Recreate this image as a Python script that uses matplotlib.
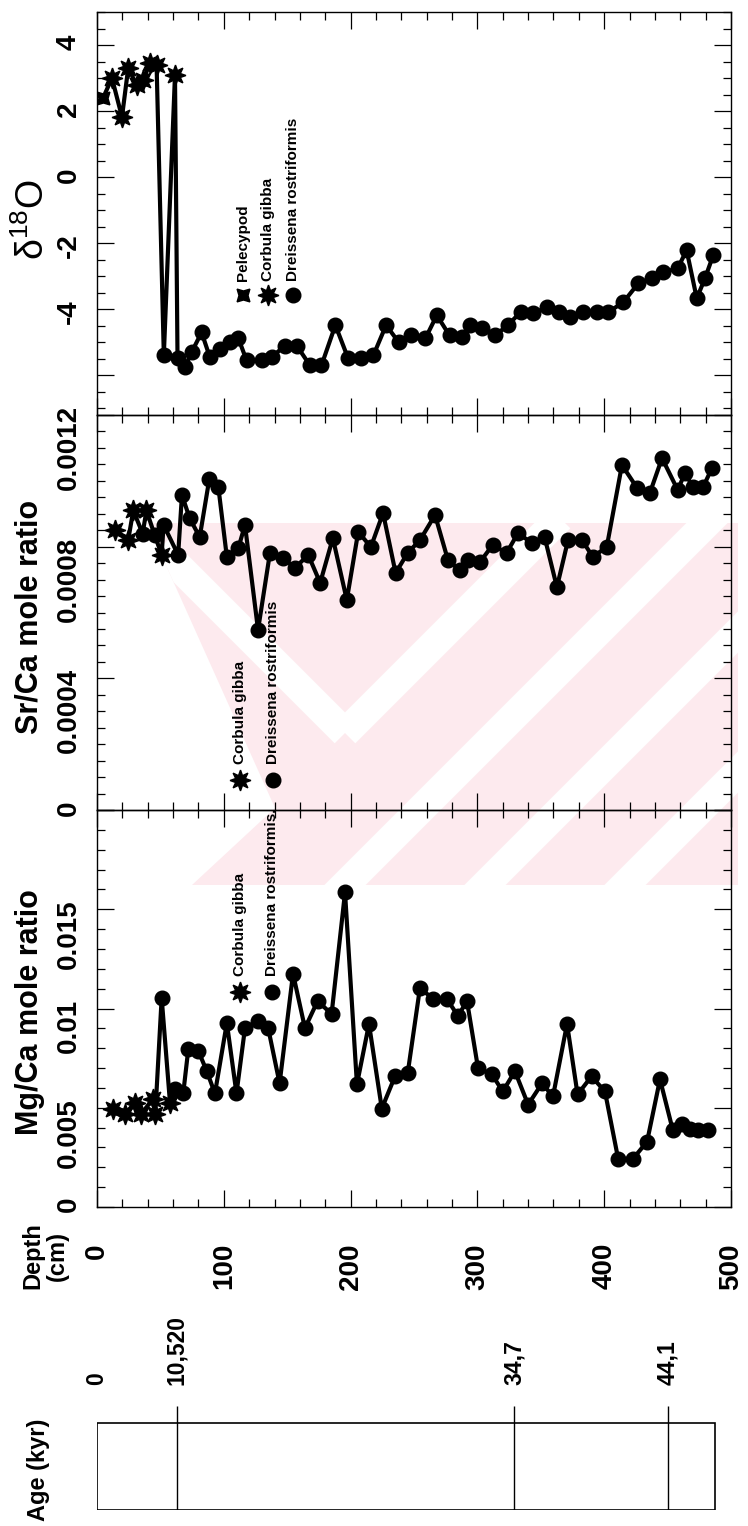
import matplotlib
matplotlib.use('Agg')
import matplotlib.pyplot as plt
from matplotlib.patches import Rectangle, Polygon
from matplotlib.ticker import MultipleLocator

plt.rcParams['font.family'] = ['Liberation Sans', 'DejaVu Sans']
plt.rcParams['font.weight'] = 'bold'
plt.rcParams['axes.labelweight'] = 'bold'

# taxon codes: P = Pelecypod, C = Corbula gibba, D = Dreissena rostriformis
o_depth = [4.7, 11.8, 19.7, 24.6, 31.4, 36.4, 41.8, 47, 52.7, 61.5, 63.5, 69.4, 74.6,
           82.5, 89, 97, 105, 111.5, 118, 130, 138, 148, 157.5, 168, 177, 188, 198,
           208, 218, 228, 238, 248, 259, 268, 278, 288, 294, 304, 314, 324, 334, 344,
           355, 364, 373, 383, 394, 403, 415, 427, 438, 446.5, 458, 465, 473, 479.5, 486]
o_value = [2.39, 3.0, 1.82, 3.30, 2.79, 2.94, 3.45, 3.39, -5.39, 3.09, -5.48, -5.76, -5.3,
           -4.7, -5.45, -5.2, -5.0, -4.88, -5.55, -5.55, -5.45, -5.1, -5.1, -5.7, -5.7, -4.48, -5.48,
           -5.48, -5.39, -4.48, -5.0, -4.79, -4.88, -4.18, -4.79, -4.85, -4.48, -4.58, -4.79, -4.48, -4.09, -4.12,
           -3.94, -4.09, -4.24, -4.09, -4.09, -4.09, -3.79, -3.21, -3.06, -2.88, -2.76, -2.21, -3.67, -3.06, -2.36]
o_taxon = ['P', 'C', 'C', 'C', 'C', 'C', 'C', 'C', 'D', 'C'] + ['D'] * 47

sr_depth = [14, 24.6, 28.6, 36, 39, 45.5, 51, 52.5, 64, 67, 73, 81, 88.6, 95.7, 102.4, 111.5,
            116.7, 127, 136.4, 146.7, 156, 166.6, 176, 186, 197, 206, 216, 225.6, 235.5, 245,
            254.7, 266.6, 276.8, 286, 292.6, 302, 312, 323, 332, 343, 353, 362.7, 371.5,
            382.5, 391, 402, 414, 426, 436, 445.6, 458, 463.7, 470, 478, 485]
sr_value = [0.00085, 0.00082, 0.00091, 0.00084, 0.00091, 0.000835, 0.000775, 0.000866, 0.000775,
            0.000957, 0.000887, 0.000829, 0.001006, 0.000981, 0.000769, 0.000796, 0.000866, 0.000547,
            0.000781, 0.000766, 0.000735, 0.000775, 0.000690, 0.000826, 0.000638, 0.000845, 0.000799,
            0.000902, 0.000720, 0.000781, 0.000820, 0.000896, 0.000759, 0.000729, 0.000759, 0.000753,
            0.000805, 0.000781, 0.000841, 0.000811, 0.000829, 0.000677, 0.000820, 0.000820, 0.000769,
            0.000799, 0.001048, 0.000978, 0.000963, 0.001069, 0.000972, 0.001024, 0.000981, 0.000981,
            0.001039]
sr_taxon = ['C', 'C', 'C', 'D', 'C', 'D', 'C'] + ['D'] * 48

mg_depth = [12.8, 22, 30, 35, 44, 46, 51, 57.6, 61.5, 68, 72, 80, 86.6, 93, 102.4, 110, 116.7,
            127, 135, 144, 154.6, 164, 174, 185, 195.6, 205, 214.5, 224.6, 235, 245, 254.7, 265,
            276, 284.7, 291.8, 300.5, 311.5, 320, 329.6, 340, 351, 359.6, 370.7, 379, 390, 400.6,
            411, 422.7, 433.8, 444, 454, 461, 467.7, 474, 482]
mg_value = [0.00496, 0.00471, 0.00522, 0.00471, 0.00542, 0.00471, 0.01053, 0.00522, 0.00592,
            0.00572, 0.00795, 0.00785, 0.00684, 0.00572, 0.00927, 0.00572, 0.00901, 0.00937,
            0.00901, 0.00623, 0.01175, 0.00901, 0.01038, 0.00972, 0.01585, 0.00618, 0.00922,
            0.00496, 0.00658, 0.00673, 0.01104, 0.01048, 0.01048, 0.00962, 0.01038, 0.00699,
            0.00668, 0.00582, 0.00684, 0.00516, 0.00623, 0.00557, 0.00922, 0.00567, 0.00658,
            0.00582, 0.00243, 0.00243, 0.00329, 0.00643, 0.0039, 0.0042, 0.00395, 0.0039, 0.0039]
mg_taxon = ['C', 'C', 'C', 'C', 'C', 'C', 'D', 'C'] + ['D'] * 47

age_depth = [0, 63, 329, 450]
age_label = ['0', '10,520', '34,7', '44,1']
core_bottom = 487

taxon_marker = {'P': (4, 1, 45), 'C': (8, 1, 0), 'D': 'o'}
taxon_size = {'P': 13, 'C': 15, 'D': 10.5}
taxon_name = {'P': 'Pelecypod', 'C': 'Corbula gibba', 'D': 'Dreissena rostriformis'}

W, H = 748, 1526
fig = plt.figure(figsize=(W / 100, H / 100), dpi=100)


def px_rect(x0, y0, x1, y1):
    return [x0 / W, 1 - y1 / H, (x1 - x0) / W, (y1 - y0) / H]


# faint pink watermark of the scanned page, drawn behind everything
ax_bg = fig.add_axes([0, 0, 1, 1], zorder=-1)
ax_bg.set_xlim(0, W)
ax_bg.set_ylim(H, 0)
ax_bg.axis('off')
pink = Polygon([(147, 523), (738, 523), (738, 885), (192, 885), (275, 808)],
               closed=True, fc='#fdeaee', ec='none')
ax_bg.add_patch(pink)
for (xa, ya), (xb, yb) in [((160, 548), (345, 733)), ((345, 733), (560, 518)),
                           ((330, 900), (720, 510)), ((470, 900), (760, 610)),
                           ((610, 900), (760, 750))]:
    ln, = ax_bg.plot([xa, xb], [ya, yb], color='white', lw=21, solid_capstyle='butt')
    ln.set_clip_path(pink)

ax_o = fig.add_axes(px_rect(97, 12, 731, 415))
ax_sr = fig.add_axes(px_rect(97, 415, 731, 810))
ax_mg = fig.add_axes(px_rect(97, 810, 731, 1207))
ax_age = fig.add_axes(px_rect(97, 1403, 731, 1510))


def draw_series(ax, depth, value, taxon):
    ax.plot(depth, value, color='black', lw=3.0, zorder=2)
    for t in taxon_marker:
        xs = [d for d, k in zip(depth, taxon) if k == t]
        ys = [v for v, k in zip(value, taxon) if k == t]
        if xs:
            ax.plot(xs, ys, ls='none', marker=taxon_marker[t], ms=taxon_size[t],
                    color='black', mec='black', zorder=3)


def style(ax, ylim, minor):
    ax.set_facecolor('none')
    ax.set_xlim(0, 500)
    ax.set_ylim(*ylim)
    ax.xaxis.set_major_locator(MultipleLocator(100))
    ax.xaxis.set_minor_locator(MultipleLocator(20))
    ax.yaxis.set_minor_locator(MultipleLocator(minor))
    ax.tick_params(which='both', direction='in', top=True, right=True, width=0.9)
    ax.tick_params(which='major', length=12)
    ax.tick_params(which='minor', length=6)
    ax.tick_params(axis='x', labelbottom=False)
    ax.tick_params(axis='y', labelsize=20, pad=11, labelrotation=90)
    for s in ax.spines.values():
        s.set_linewidth(1.0)


def legend(ax, ylo, yhi, keys, x_px, y_px, text_px):
    for t, xp in zip(keys, x_px):
        ax.plot([(xp - 97) / 634], [(ylo - y_px) / (ylo - yhi)], transform=ax.transAxes,
                ls='none', marker=taxon_marker[t], ms=taxon_size[t], color='black', clip_on=False)
        ax.text((xp - 97) / 634, (ylo - text_px) / (ylo - yhi), taxon_name[t] + keys[t],
                transform=ax.transAxes, rotation=90, ha='center', va='bottom', fontsize=11)


draw_series(ax_o, o_depth, o_value, o_taxon)
style(ax_o, (-7.2, 5.0), 0.5)
ax_o.set_yticks([-6, -4, -2, 0, 2, 4], labels=['', '-4', '-2', '0', '2', '4'])
ax_o.set_ylabel(r'$\mathregular{\delta^{18}O}$', fontsize=27, fontweight='normal')
ax_o.yaxis.set_label_coords(-(97 - 52) / 634, (415 - 220) / 403)
legend(ax_o, 415, 12, {'P': '', 'C': '', 'D': ''}, [243, 268, 293], 295, 281)

draw_series(ax_sr, sr_depth, sr_value, sr_taxon)
style(ax_sr, (0, 0.0012), 0.00005)
ax_sr.set_yticks([0, 0.0004, 0.0008, 0.0012], labels=['0', '0.0004', '0.0008', '0.0012'])
ax_sr.set_ylabel('Sr/Ca mole ratio', fontsize=22, fontweight='bold')
ax_sr.yaxis.set_label_coords(-(97 - 45) / 634, (810 - 617) / 395)
legend(ax_sr, 810, 415, {'C': '', 'D': ''}, [240, 273], 780, 764)

draw_series(ax_mg, mg_depth, mg_value, mg_taxon)
style(ax_mg, (0, 0.02), 0.001)
ax_mg.set_yticks([0, 0.005, 0.01, 0.015, 0.02], labels=['0', '0.005', '0.01', '0.015', ''])
ax_mg.set_ylabel('Mg/Ca mole ratio', fontsize=22, fontweight='bold')
ax_mg.yaxis.set_label_coords(-(97 - 45) / 634, (1207 - 1012) / 397)
ax_mg.tick_params(axis='x', labelbottom=True, labelsize=20, pad=26, labelrotation=90)
legend(ax_mg, 1207, 810, {'C': '', 'D': '.'}, [240, 272], 992, 976)

# age column
ax_age.set_xlim(0, 500)
ax_age.set_ylim(0, 1)
ax_age.axis('off')
ax_age.add_patch(Rectangle((0, 0), core_bottom, 0.813, fill=False, lw=1.2, ec='black'))
ax_age.vlines(age_depth[1:], 0, 0.97, color='black', lw=1.0)
for d, lab in zip(age_depth, age_label):
    ax_age.text(d, 1.17, lab, rotation=90, ha='center', va='bottom', fontsize=16.5,
                clip_on=False)

fig.text(45 / W, 1 - 1256 / H, 'Depth\n(cm)', rotation=90, ha='center', va='center',
         fontsize=17, linespacing=1.1, multialignment='center')
fig.text(39 / W, 1 - 1470 / H, 'Age (kyr)', rotation=90, ha='center', va='center', fontsize=17)

fig.savefig('out.png', dpi=100, facecolor='white')
